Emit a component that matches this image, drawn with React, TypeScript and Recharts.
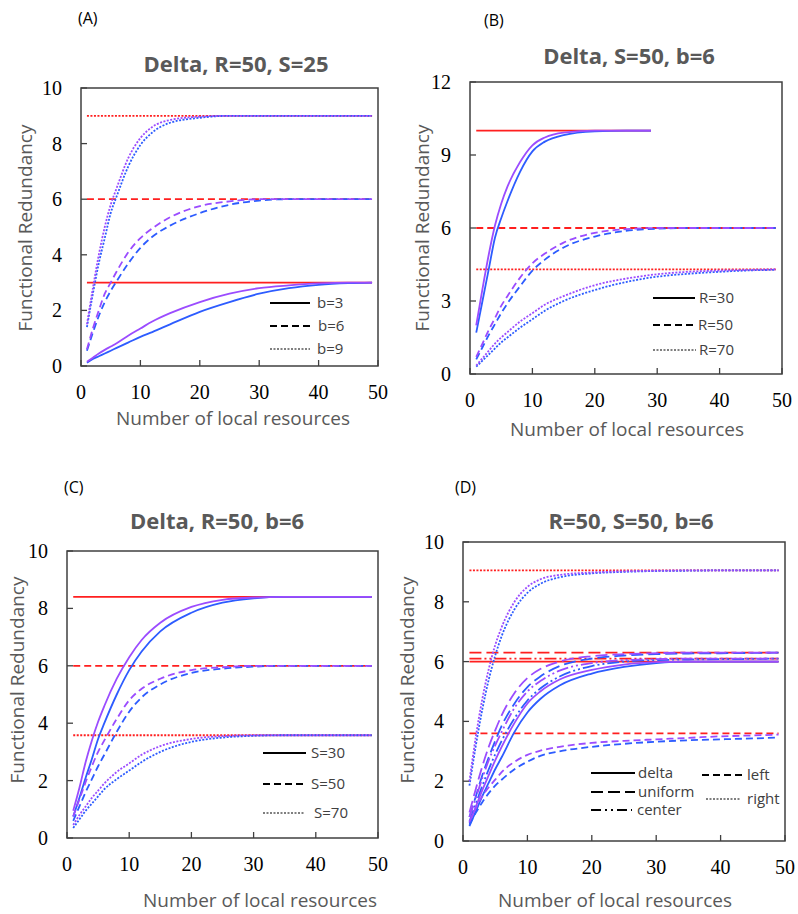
import React from 'react';
import { LineChart, Line, XAxis, YAxis, ReferenceArea } from 'recharts';

// sample points along x (number of local resources)
const X = [1, 2, 3, 4, 5, 6, 8, 10, 12, 15, 20, 25, 30, 35, 40, 45, 49];
const X_R30 = [1, 2, 3, 4, 5, 6, 8, 10, 12, 15, 20, 25, 29];

// (A) Delta, R=50, S=25
const aBlueB3 = [0.12, 0.25, 0.35, 0.45, 0.55, 0.65, 0.85, 1.05, 1.22, 1.5, 1.95, 2.3, 2.6, 2.8, 2.92, 2.98, 3.0];
const aPurpB3 = [0.15, 0.3, 0.45, 0.58, 0.7, 0.82, 1.1, 1.35, 1.6, 1.9, 2.3, 2.6, 2.8, 2.9, 2.97, 3.0, 3.0];
const aBlueB6 = [0.55, 1.2, 1.8, 2.3, 2.7, 3.05, 3.7, 4.25, 4.65, 5.05, 5.5, 5.8, 5.95, 6, 6, 6, 6];
const aPurpB6 = [0.6, 1.35, 2.0, 2.6, 3.0, 3.4, 4.1, 4.6, 4.95, 5.35, 5.75, 5.92, 6, 6, 6, 6, 6];
const aBlueB9 = [1.4, 2.6, 3.7, 4.6, 5.5, 6.1, 7.2, 7.95, 8.4, 8.75, 8.93, 9, 9, 9, 9, 9, 9];
const aPurpB9 = [1.5, 2.8, 4.0, 5.0, 5.8, 6.4, 7.5, 8.2, 8.6, 8.85, 8.97, 9, 9, 9, 9, 9, 9];
const aLimits = [3, 6, 9];

// (B) Delta, S=50, b=6
const bBlueR30 = [1.7, 3.0, 4.3, 5.6, 6.4, 7.1, 8.3, 9.15, 9.55, 9.82, 9.97, 10, 10];
const bPurpR30 = [2.0, 3.5, 4.9, 6.1, 7.0, 7.7, 8.7, 9.4, 9.72, 9.92, 10, 10, 10];
const bBlueR50 = [0.6, 1.1, 1.6, 2.05, 2.5, 2.9, 3.6, 4.25, 4.7, 5.2, 5.65, 5.88, 5.97, 6, 6, 6, 6];
const bPurpR50 = [0.7, 1.25, 1.8, 2.3, 2.8, 3.2, 3.95, 4.55, 4.95, 5.4, 5.8, 5.95, 6, 6, 6, 6, 6];
const bBlueR70 = [0.3, 0.55, 0.8, 1.05, 1.3, 1.5, 1.9, 2.25, 2.6, 3.0, 3.45, 3.78, 4.0, 4.12, 4.2, 4.26, 4.28];
const bPurpR70 = [0.35, 0.65, 0.95, 1.25, 1.5, 1.72, 2.15, 2.5, 2.85, 3.2, 3.65, 3.92, 4.1, 4.2, 4.25, 4.28, 4.3];
const bLimits = [10, 6, 4.3];

// (C) Delta, R=50, b=6
const cBlueS30 = [0.75, 1.4, 2.1, 2.75, 3.45, 4.0, 5.0, 5.85, 6.5, 7.2, 7.85, 8.2, 8.35, 8.4, 8.4, 8.4, 8.4];
const cPurpS30 = [0.95, 1.75, 2.65, 3.4, 4.05, 4.6, 5.55, 6.3, 6.9, 7.5, 8.05, 8.3, 8.38, 8.4, 8.4, 8.4, 8.4];
const cBlueS50 = [0.6, 1.1, 1.6, 2.05, 2.5, 2.9, 3.7, 4.4, 4.9, 5.35, 5.75, 5.9, 5.97, 6, 6, 6, 6];
const cPurpS50 = [0.75, 1.35, 1.95, 2.5, 3.0, 3.4, 4.15, 4.8, 5.2, 5.55, 5.85, 5.95, 6, 6, 6, 6, 6];
const cBlueS70 = [0.35, 0.65, 0.95, 1.2, 1.45, 1.7, 2.05, 2.35, 2.65, 3.0, 3.35, 3.5, 3.56, 3.58, 3.58, 3.58, 3.58];
const cPurpS70 = [0.45, 0.8, 1.1, 1.4, 1.65, 1.9, 2.3, 2.6, 2.9, 3.2, 3.45, 3.55, 3.58, 3.58, 3.58, 3.58, 3.58];
const cLimits = [8.4, 6, 3.58];

// (D) R=50, S=50, b=6
const dBlueDelta = [0.5, 1.0, 1.5, 1.95, 2.4, 2.8, 3.65, 4.3, 4.75, 5.2, 5.6, 5.82, 5.95, 6, 6, 6, 6];
const dPurpDelta = [0.6, 1.15, 1.7, 2.2, 2.7, 3.15, 3.95, 4.6, 5.0, 5.4, 5.72, 5.9, 5.98, 6, 6, 6, 6];
const dBlueUniform = [0.8, 1.5, 2.2, 2.8, 3.35, 3.85, 4.6, 5.15, 5.5, 5.85, 6.1, 6.2, 6.25, 6.27, 6.28, 6.29, 6.3];
const dPurpUniform = [0.95, 1.75, 2.5, 3.15, 3.7, 4.2, 4.95, 5.45, 5.75, 6.0, 6.18, 6.25, 6.28, 6.3, 6.3, 6.3, 6.3];
const dBlueCenter = [0.65, 1.25, 1.85, 2.4, 2.9, 3.35, 4.1, 4.7, 5.1, 5.5, 5.85, 6.0, 6.05, 6.07, 6.08, 6.09, 6.1];
const dPurpCenter = [0.8, 1.45, 2.1, 2.7, 3.2, 3.65, 4.45, 5.0, 5.35, 5.7, 5.95, 6.05, 6.08, 6.1, 6.1, 6.1, 6.1];
const dBlueLeft = [0.55, 0.95, 1.3, 1.6, 1.85, 2.05, 2.4, 2.65, 2.85, 3.0, 3.15, 3.25, 3.32, 3.37, 3.4, 3.43, 3.46];
const dPurpLeft = [0.65, 1.1, 1.5, 1.8, 2.05, 2.3, 2.65, 2.88, 3.02, 3.15, 3.28, 3.35, 3.4, 3.45, 3.5, 3.53, 3.56];
const dBlueRight = [1.85, 3.2, 4.4, 5.4, 6.2, 6.85, 7.75, 8.3, 8.6, 8.82, 8.95, 9.0, 9.03, 9.04, 9.05, 9.05, 9.05];
const dPurpRight = [2.0, 3.5, 4.75, 5.75, 6.55, 7.15, 8.0, 8.5, 8.75, 8.9, 8.98, 9.02, 9.04, 9.05, 9.05, 9.05, 9.05];
const dLimits = { delta: 6.0, uniform: 6.3, center: 6.1, left: 3.6, right: 9.05 };

const X_TICKS = [0, 10, 20, 30, 40, 50];

const BLUE = '#2d5cff';
const PURPLE = '#9b4cff';
const RED = '#ff1f1f';
const AXIS = '#404040';
const GREY_TEXT = '#595959';
const SANS = '"Open Sans", "Noto Sans", sans-serif';
const SERIF = '"Liberation Serif", "DejaVu Serif", serif';

const DASH = {
  solid: undefined,
  dashed: '7 4',
  dotted: '2 1.5',
  long: '12 5',
  dashDot: '12 3 2 3 2 3',
};

const pts = (xs: number[], ys: number[]) => xs.map((x, i) => ({ x, y: ys[i] }));
const flat = (y: number, x0 = 1, x1 = 49) => [{ x: x0, y }, { x: x1, y }];

interface Curve {
  data: { x: number; y: number }[];
  color: string;
  dash?: string;
}

// serif tick label, like the original Excel/Times output
function SerifTick(props: any) {
  const { x, y, payload, textAnchor, verticalAnchor } = props;
  return (
    <text
      x={x}
      y={y}
      dy={verticalAnchor === 'start' ? '0.71em' : '0.35em'}
      textAnchor={textAnchor}
      style={{ fontFamily: SERIF, fontSize: 20, fill: '#000' }}
    >
      {payload.value}
    </text>
  );
}

interface PanelProps {
  left: number;
  top: number;
  width: number;
  height: number;
  plot: { l: number; r: number; t: number; b: number };
  yMax: number;
  yTicks: number[];
  curves: Curve[];
}

function Panel({ left, top, width, height, plot, yMax, yTicks, curves }: PanelProps) {
  const yAxisW = 40;
  const xAxisH = 30;
  const margin = {
    left: plot.l - left - yAxisW,
    right: left + width - plot.r,
    top: plot.t - top,
    bottom: top + height - plot.b - xAxisH,
  };
  return (
    <div style={{ position: 'absolute', left, top }}>
      <LineChart width={width} height={height} margin={margin}>
        <XAxis
          type="number"
          dataKey="x"
          domain={[0, 50]}
          ticks={X_TICKS}
          allowDataOverflow
          height={xAxisH}
          tickSize={-6}
          tickMargin={25}
          axisLine={false}
          tickLine={{ stroke: AXIS, strokeWidth: 1.3 }}
          tick={<SerifTick />}
        />
        <YAxis
          type="number"
          dataKey="y"
          domain={[0, yMax]}
          ticks={yTicks}
          allowDataOverflow
          width={yAxisW}
          tickSize={-6}
          tickMargin={25}
          axisLine={false}
          tickLine={{ stroke: AXIS, strokeWidth: 1.3 }}
          tick={<SerifTick />}
        />
        <ReferenceArea x1={0} x2={50} y1={0} y2={yMax} fill="none" stroke={AXIS} strokeWidth={1.5} ifOverflow="visible" />
        {curves.map((c, i) => (
          <Line
            key={i}
            data={c.data}
            dataKey="y"
            type="monotone"
            stroke={c.color}
            strokeWidth={1.8}
            strokeDasharray={c.dash}
            dot={false}
            activeDot={false}
            isAnimationActive={false}
          />
        ))}
      </LineChart>
    </div>
  );
}

const abs = (style: React.CSSProperties): React.CSSProperties => ({ position: 'absolute', whiteSpace: 'nowrap', lineHeight: 1, ...style });

function Title({ cx, cy, text }: { cx: number; cy: number; text: string }) {
  return (
    <div style={abs({ left: cx, top: cy, transform: 'translate(-50%, -50%)', fontFamily: SANS, fontWeight: 700, fontSize: 22, color: GREY_TEXT })}>
      {text}
    </div>
  );
}

function Tag({ x, cy, text }: { x: number; cy: number; text: string }) {
  return (
    <div style={abs({ left: x, top: cy, transform: 'translateY(-50%)', fontFamily: SANS, fontSize: 16, color: '#000' })}>
      {text}
    </div>
  );
}

function XLabel({ cx, cy }: { cx: number; cy: number }) {
  return (
    <div style={abs({ left: cx, top: cy, transform: 'translate(-50%, -50%)', fontFamily: SANS, fontSize: 19, color: GREY_TEXT })}>
      Number of local resources
    </div>
  );
}

function YLabel({ cx, cy }: { cx: number; cy: number }) {
  return (
    <div style={abs({ left: cx, top: cy, transform: 'translate(-50%, -50%) rotate(-90deg)', fontFamily: SANS, fontSize: 19, color: GREY_TEXT })}>
      Functional Redundancy
    </div>
  );
}

interface LegendItem {
  x1: number;
  x2: number;
  y: number;
  dash?: string;
  label: string;
  lx: number;
}

function LegendBox({ items }: { items: LegendItem[] }) {
  return (
    <svg width={798} height={914} style={{ position: 'absolute', left: 0, top: 0, pointerEvents: 'none' }}>
      {items.map((it) => (
        <g key={it.label}>
          <line x1={it.x1} x2={it.x2} y1={it.y} y2={it.y} stroke="#000" strokeWidth={it.dash === DASH.dotted ? 1.2 : 1.8} strokeDasharray={it.dash} />
          <text x={it.lx} y={it.y} dy="0.35em" style={{ fontFamily: SANS, fontSize: 15, fill: '#404040' }}>
            {it.label}
          </text>
        </g>
      ))}
    </svg>
  );
}

export default function App() {
  const panelA: Curve[] = [
    { data: flat(aLimits[0]), color: RED },
    { data: flat(aLimits[1]), color: RED, dash: DASH.dashed },
    { data: flat(aLimits[2]), color: RED, dash: DASH.dotted },
    { data: pts(X, aBlueB3), color: BLUE },
    { data: pts(X, aPurpB3), color: PURPLE },
    { data: pts(X, aBlueB6), color: BLUE, dash: DASH.dashed },
    { data: pts(X, aPurpB6), color: PURPLE, dash: DASH.dashed },
    { data: pts(X, aBlueB9), color: BLUE, dash: DASH.dotted },
    { data: pts(X, aPurpB9), color: PURPLE, dash: DASH.dotted },
  ];
  const panelB: Curve[] = [
    { data: flat(bLimits[0], 1, 29), color: RED },
    { data: flat(bLimits[1]), color: RED, dash: DASH.dashed },
    { data: flat(bLimits[2]), color: RED, dash: DASH.dotted },
    { data: pts(X_R30, bBlueR30), color: BLUE },
    { data: pts(X_R30, bPurpR30), color: PURPLE },
    { data: pts(X, bBlueR50), color: BLUE, dash: DASH.dashed },
    { data: pts(X, bPurpR50), color: PURPLE, dash: DASH.dashed },
    { data: pts(X, bBlueR70), color: BLUE, dash: DASH.dotted },
    { data: pts(X, bPurpR70), color: PURPLE, dash: DASH.dotted },
  ];
  const panelC: Curve[] = [
    { data: flat(cLimits[0]), color: RED },
    { data: flat(cLimits[1]), color: RED, dash: DASH.dashed },
    { data: flat(cLimits[2]), color: RED, dash: DASH.dotted },
    { data: pts(X, cBlueS30), color: BLUE },
    { data: pts(X, cPurpS30), color: PURPLE },
    { data: pts(X, cBlueS50), color: BLUE, dash: DASH.dashed },
    { data: pts(X, cPurpS50), color: PURPLE, dash: DASH.dashed },
    { data: pts(X, cBlueS70), color: BLUE, dash: DASH.dotted },
    { data: pts(X, cPurpS70), color: PURPLE, dash: DASH.dotted },
  ];
  const panelD: Curve[] = [
    { data: flat(dLimits.right), color: RED, dash: DASH.dotted },
    { data: flat(dLimits.uniform), color: RED, dash: DASH.long },
    { data: flat(dLimits.center), color: RED, dash: DASH.dashDot },
    { data: flat(dLimits.delta), color: RED },
    { data: flat(dLimits.left), color: RED, dash: DASH.dashed },
    { data: pts(X, dBlueRight), color: BLUE, dash: DASH.dotted },
    { data: pts(X, dPurpRight), color: PURPLE, dash: DASH.dotted },
    { data: pts(X, dBlueUniform), color: BLUE, dash: DASH.long },
    { data: pts(X, dPurpUniform), color: PURPLE, dash: DASH.long },
    { data: pts(X, dBlueCenter), color: BLUE, dash: DASH.dashDot },
    { data: pts(X, dPurpCenter), color: PURPLE, dash: DASH.dashDot },
    { data: pts(X, dBlueDelta), color: BLUE },
    { data: pts(X, dPurpDelta), color: PURPLE },
    { data: pts(X, dBlueLeft), color: BLUE, dash: DASH.dashed },
    { data: pts(X, dPurpLeft), color: PURPLE, dash: DASH.dashed },
  ];

  const legendItems: LegendItem[] = [
    { x1: 270, x2: 310, y: 303, label: 'b=3', lx: 317 },
    { x1: 270, x2: 310, y: 326, dash: DASH.dashed, label: 'b=6', lx: 318 },
    { x1: 270, x2: 310, y: 349, dash: DASH.dotted, label: 'b=9', lx: 317 },
    { x1: 653, x2: 695, y: 298, label: 'R=30', lx: 699 },
    { x1: 653, x2: 693, y: 325, dash: DASH.dashed, label: 'R=50', lx: 698 },
    { x1: 653, x2: 696, y: 350, dash: DASH.dotted, label: 'R=70', lx: 699 },
    { x1: 263, x2: 306, y: 753, label: 'S=30', lx: 311 },
    { x1: 263, x2: 303, y: 784, dash: DASH.dashed, label: 'S=50', lx: 311 },
    { x1: 263, x2: 304, y: 813, dash: DASH.dotted, label: 'S=70', lx: 314 },
    { x1: 591, x2: 635, y: 773, label: 'delta', lx: 638 },
    { x1: 591, x2: 635, y: 792, dash: DASH.long, label: 'uniform', lx: 638 },
    { x1: 591, x2: 632, y: 810, dash: '10 4 2 4 2 4', label: 'center', lx: 637 },
    { x1: 702, x2: 743, y: 775, dash: DASH.dashed, label: 'left', lx: 747 },
    { x1: 706, x2: 741, y: 799, dash: DASH.dotted, label: 'right', lx: 747 },
  ];

  return (
    <div style={{ position: 'absolute', left: 0, top: 0, width: 798, height: 914, background: '#fff', overflow: 'hidden' }}>
      <Panel left={0} top={0} width={399} height={440} plot={{ l: 81, r: 378, t: 88, b: 366 }} yMax={10} yTicks={[0, 2, 4, 6, 8, 10]} curves={panelA} />
      <Panel left={399} top={0} width={399} height={440} plot={{ l: 470, r: 782, t: 82, b: 374 }} yMax={12} yTicks={[0, 3, 6, 9, 12]} curves={panelB} />
      <Panel left={0} top={460} width={399} height={454} plot={{ l: 67, r: 378, t: 551, b: 838 }} yMax={10} yTicks={[0, 2, 4, 6, 8, 10]} curves={panelC} />
      <Panel left={399} top={460} width={399} height={454} plot={{ l: 463, r: 785, t: 542, b: 841 }} yMax={10} yTicks={[0, 2, 4, 6, 8, 10]} curves={panelD} />

      <Tag x={78} cy={18} text="(A)" />
      <Tag x={484} cy={20} text="(B)" />
      <Tag x={64} cy={487} text="(C)" />
      <Tag x={455} cy={487} text="(D)" />

      <Title cx={236} cy={63} text="Delta, R=50, S=25" />
      <Title cx={629} cy={55} text="Delta, S=50, b=6" />
      <Title cx={217} cy={520} text="Delta, R=50, b=6" />
      <Title cx={631} cy={520} text="R=50, S=50, b=6" />

      <XLabel cx={233} cy={418} />
      <XLabel cx={627} cy={429} />
      <XLabel cx={260} cy={900} />
      <XLabel cx={615} cy={900} />

      <YLabel cx={25} cy={228} />
      <YLabel cx={422} cy={228} />
      <YLabel cx={17} cy={680} />
      <YLabel cx={407} cy={680} />

      <LegendBox items={legendItems} />
    </div>
  );
}
